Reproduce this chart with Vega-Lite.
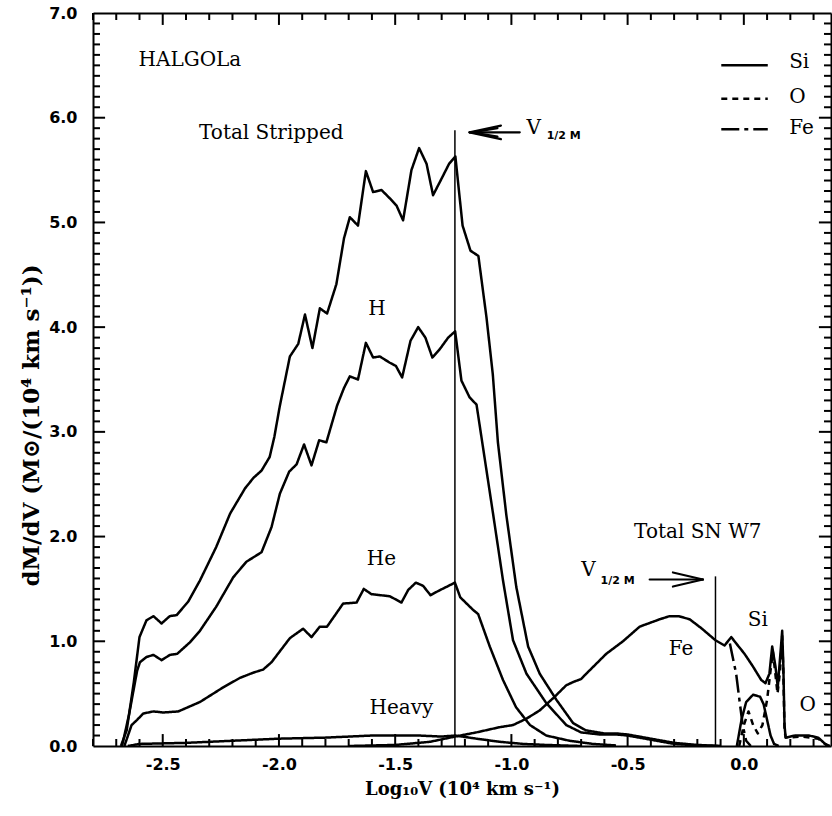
{
  "$schema": "https://vega.github.io/schema/vega-lite/v6.json",
  "autosize": "none",
  "width": 738,
  "height": 733,
  "padding": {"left": 93, "top": 13, "right": 1, "bottom": 70},
  "background": "white",
  "config": {
    "view": {"stroke": null},
    "axis": {"grid": false, "domainColor": "black", "labelColor": "black", "titleColor": "black", "domainWidth": 2}
  },
  "datasets": {
    "curves": [
      {"s":"TS","x":-2.68,"y":0},{"s":"TS","x":-2.655,"y":0.15},{"s":"TS","x":-2.625,"y":0.6},{"s":"TS","x":-2.6,"y":1.04},{"s":"TS","x":-2.57,"y":1.2},{"s":"TS","x":-2.54,"y":1.24},{"s":"TS","x":-2.505,"y":1.17},{"s":"TS","x":-2.47,"y":1.24},{"s":"TS","x":-2.44,"y":1.25},{"s":"TS","x":-2.39,"y":1.38},{"s":"TS","x":-2.34,"y":1.58},{"s":"TS","x":-2.27,"y":1.9},{"s":"TS","x":-2.21,"y":2.22},{"s":"TS","x":-2.146,"y":2.46},{"s":"TS","x":-2.11,"y":2.56},{"s":"TS","x":-2.075,"y":2.63},{"s":"TS","x":-2.04,"y":2.76},{"s":"TS","x":-2.02,"y":2.95},{"s":"TS","x":-1.996,"y":3.25},{"s":"TS","x":-1.953,"y":3.72},{"s":"TS","x":-1.917,"y":3.84},{"s":"TS","x":-1.888,"y":4.12},{"s":"TS","x":-1.856,"y":3.8},{"s":"TS","x":-1.824,"y":4.18},{"s":"TS","x":-1.793,"y":4.13},{"s":"TS","x":-1.753,"y":4.41},{"s":"TS","x":-1.72,"y":4.85},{"s":"TS","x":-1.695,"y":5.05},{"s":"TS","x":-1.66,"y":4.97},{"s":"TS","x":-1.626,"y":5.49},{"s":"TS","x":-1.595,"y":5.29},{"s":"TS","x":-1.559,"y":5.31},{"s":"TS","x":-1.523,"y":5.23},{"s":"TS","x":-1.494,"y":5.16},{"s":"TS","x":-1.466,"y":5.02},{"s":"TS","x":-1.43,"y":5.5},{"s":"TS","x":-1.397,"y":5.71},{"s":"TS","x":-1.365,"y":5.56},{"s":"TS","x":-1.337,"y":5.26},{"s":"TS","x":-1.3,"y":5.42},{"s":"TS","x":-1.268,"y":5.56},{"s":"TS","x":-1.241,"y":5.63},{"s":"TS","x":-1.21,"y":4.97},{"s":"TS","x":-1.176,"y":4.73},{"s":"TS","x":-1.142,"y":4.68},{"s":"TS","x":-1.107,"y":4.09},{"s":"TS","x":-1.08,"y":3.55},{"s":"TS","x":-1.058,"y":2.9},{"s":"TS","x":-1.022,"y":2.21},{"s":"TS","x":-0.979,"y":1.52},{"s":"TS","x":-0.928,"y":0.95},{"s":"TS","x":-0.878,"y":0.69},{"s":"TS","x":-0.806,"y":0.44},{"s":"TS","x":-0.735,"y":0.22},{"s":"TS","x":-0.68,"y":0.15},{"s":"TS","x":-0.6,"y":0.12},{"s":"TS","x":-0.55,"y":0.12},{"s":"TS","x":-0.5,"y":0.11},{"s":"TS","x":-0.45,"y":0.09},{"s":"TS","x":-0.4,"y":0.07},{"s":"TS","x":-0.3,"y":0.03},{"s":"TS","x":-0.2,"y":0.01},{"s":"TS","x":-0.1,"y":0},

      {"s":"H","x":-2.675,"y":0},{"s":"H","x":-2.645,"y":0.3},{"s":"H","x":-2.61,"y":0.72},{"s":"H","x":-2.598,"y":0.8},{"s":"H","x":-2.57,"y":0.85},{"s":"H","x":-2.54,"y":0.87},{"s":"H","x":-2.505,"y":0.82},{"s":"H","x":-2.469,"y":0.87},{"s":"H","x":-2.438,"y":0.88},{"s":"H","x":-2.383,"y":0.99},{"s":"H","x":-2.34,"y":1.1},{"s":"H","x":-2.27,"y":1.33},{"s":"H","x":-2.197,"y":1.61},{"s":"H","x":-2.14,"y":1.76},{"s":"H","x":-2.104,"y":1.81},{"s":"H","x":-2.075,"y":1.85},{"s":"H","x":-2.032,"y":2.09},{"s":"H","x":-1.996,"y":2.41},{"s":"H","x":-1.956,"y":2.62},{"s":"H","x":-1.924,"y":2.69},{"s":"H","x":-1.892,"y":2.88},{"s":"H","x":-1.86,"y":2.68},{"s":"H","x":-1.827,"y":2.92},{"s":"H","x":-1.796,"y":2.9},{"s":"H","x":-1.75,"y":3.25},{"s":"H","x":-1.72,"y":3.42},{"s":"H","x":-1.695,"y":3.53},{"s":"H","x":-1.66,"y":3.5},{"s":"H","x":-1.626,"y":3.85},{"s":"H","x":-1.595,"y":3.71},{"s":"H","x":-1.566,"y":3.72},{"s":"H","x":-1.523,"y":3.66},{"s":"H","x":-1.497,"y":3.63},{"s":"H","x":-1.47,"y":3.52},{"s":"H","x":-1.434,"y":3.87},{"s":"H","x":-1.401,"y":4.0},{"s":"H","x":-1.37,"y":3.9},{"s":"H","x":-1.34,"y":3.71},{"s":"H","x":-1.308,"y":3.79},{"s":"H","x":-1.272,"y":3.9},{"s":"H","x":-1.242,"y":3.96},{"s":"H","x":-1.215,"y":3.49},{"s":"H","x":-1.18,"y":3.33},{"s":"H","x":-1.15,"y":3.26},{"s":"H","x":-1.122,"y":2.85},{"s":"H","x":-1.079,"y":2.22},{"s":"H","x":-1.036,"y":1.58},{"s":"H","x":-0.993,"y":1.01},{"s":"H","x":-0.935,"y":0.69},{"s":"H","x":-0.85,"y":0.41},{"s":"H","x":-0.764,"y":0.2},{"s":"H","x":-0.7,"y":0.13},{"s":"H","x":-0.62,"y":0.11},{"s":"H","x":-0.55,"y":0.11},{"s":"H","x":-0.5,"y":0.1},{"s":"H","x":-0.45,"y":0.08},{"s":"H","x":-0.4,"y":0.06},{"s":"H","x":-0.3,"y":0.02},{"s":"H","x":-0.2,"y":0.005},{"s":"H","x":-0.1,"y":0},

      {"s":"He","x":-2.665,"y":0},{"s":"He","x":-2.634,"y":0.2},{"s":"He","x":-2.61,"y":0.25},{"s":"He","x":-2.584,"y":0.31},{"s":"He","x":-2.54,"y":0.33},{"s":"He","x":-2.497,"y":0.32},{"s":"He","x":-2.433,"y":0.33},{"s":"He","x":-2.34,"y":0.42},{"s":"He","x":-2.24,"y":0.56},{"s":"He","x":-2.168,"y":0.65},{"s":"He","x":-2.111,"y":0.7},{"s":"He","x":-2.068,"y":0.73},{"s":"He","x":-2.032,"y":0.8},{"s":"He","x":-1.953,"y":1.03},{"s":"He","x":-1.896,"y":1.12},{"s":"He","x":-1.86,"y":1.04},{"s":"He","x":-1.824,"y":1.14},{"s":"He","x":-1.793,"y":1.14},{"s":"He","x":-1.724,"y":1.36},{"s":"He","x":-1.666,"y":1.37},{"s":"He","x":-1.635,"y":1.5},{"s":"He","x":-1.602,"y":1.45},{"s":"He","x":-1.523,"y":1.43},{"s":"He","x":-1.473,"y":1.37},{"s":"He","x":-1.444,"y":1.49},{"s":"He","x":-1.411,"y":1.56},{"s":"He","x":-1.38,"y":1.53},{"s":"He","x":-1.348,"y":1.44},{"s":"He","x":-1.315,"y":1.48},{"s":"He","x":-1.243,"y":1.56},{"s":"He","x":-1.22,"y":1.42},{"s":"He","x":-1.165,"y":1.3},{"s":"He","x":-1.143,"y":1.26},{"s":"He","x":-1.093,"y":0.95},{"s":"He","x":-1.036,"y":0.63},{"s":"He","x":-0.98,"y":0.37},{"s":"He","x":-0.92,"y":0.2},{"s":"He","x":-0.85,"y":0.1},{"s":"He","x":-0.75,"y":0.05},{"s":"He","x":-0.65,"y":0.02},{"s":"He","x":-0.55,"y":0.005},

      {"s":"Heavy","x":-2.65,"y":0},{"s":"Heavy","x":-2.6,"y":0.02},{"s":"Heavy","x":-2.4,"y":0.03},{"s":"Heavy","x":-2.2,"y":0.05},{"s":"Heavy","x":-2.0,"y":0.07},{"s":"Heavy","x":-1.8,"y":0.08},{"s":"Heavy","x":-1.6,"y":0.1},{"s":"Heavy","x":-1.5,"y":0.1},{"s":"Heavy","x":-1.4,"y":0.1},{"s":"Heavy","x":-1.3,"y":0.09},{"s":"Heavy","x":-1.243,"y":0.1},{"s":"Heavy","x":-1.15,"y":0.07},{"s":"Heavy","x":-1.05,"y":0.04},{"s":"Heavy","x":-0.95,"y":0.02},{"s":"Heavy","x":-0.85,"y":0.01},{"s":"Heavy","x":-0.7,"y":0},

      {"s":"SNTot","x":-1.7,"y":0},{"s":"SNTot","x":-1.5,"y":0.01},{"s":"SNTot","x":-1.35,"y":0.04},{"s":"SNTot","x":-1.243,"y":0.09},{"s":"SNTot","x":-1.15,"y":0.13},{"s":"SNTot","x":-1.05,"y":0.18},{"s":"SNTot","x":-0.993,"y":0.2},{"s":"SNTot","x":-0.936,"y":0.26},{"s":"SNTot","x":-0.878,"y":0.34},{"s":"SNTot","x":-0.814,"y":0.47},{"s":"SNTot","x":-0.764,"y":0.58},{"s":"SNTot","x":-0.735,"y":0.61},{"s":"SNTot","x":-0.7,"y":0.64},{"s":"SNTot","x":-0.678,"y":0.69},{"s":"SNTot","x":-0.592,"y":0.88},{"s":"SNTot","x":-0.52,"y":1.0},{"s":"SNTot","x":-0.448,"y":1.14},{"s":"SNTot","x":-0.362,"y":1.21},{"s":"SNTot","x":-0.32,"y":1.24},{"s":"SNTot","x":-0.28,"y":1.24},{"s":"SNTot","x":-0.233,"y":1.21},{"s":"SNTot","x":-0.18,"y":1.12},{"s":"SNTot","x":-0.122,"y":1.01},{"s":"SNTot","x":-0.083,"y":0.96},{"s":"SNTot","x":-0.054,"y":1.04},{"s":"SNTot","x":-0.033,"y":0.98},{"s":"SNTot","x":0.003,"y":0.88},{"s":"SNTot","x":0.039,"y":0.76},{"s":"SNTot","x":0.075,"y":0.63},{"s":"SNTot","x":0.093,"y":0.6},{"s":"SNTot","x":0.11,"y":0.69},{"s":"SNTot","x":0.122,"y":0.95},{"s":"SNTot","x":0.136,"y":0.76},{"s":"SNTot","x":0.146,"y":0.56},{"s":"SNTot","x":0.153,"y":0.76},{"s":"SNTot","x":0.165,"y":1.1},{"s":"SNTot","x":0.17,"y":0.76},{"s":"SNTot","x":0.175,"y":0.2},{"s":"SNTot","x":0.18,"y":0.08},{"s":"SNTot","x":0.22,"y":0.1},{"s":"SNTot","x":0.28,"y":0.1},{"s":"SNTot","x":0.32,"y":0.08},{"s":"SNTot","x":0.35,"y":0.02},{"s":"SNTot","x":0.37,"y":0},

      {"s":"Fe","x":-0.06,"y":0.98},{"s":"Fe","x":-0.048,"y":0.85},{"s":"Fe","x":-0.033,"y":0.69},{"s":"Fe","x":-0.019,"y":0.44},{"s":"Fe","x":-0.005,"y":0.2},{"s":"Fe","x":0.01,"y":0.05},{"s":"Fe","x":0.03,"y":0},

      {"s":"Si","x":-0.03,"y":0},{"s":"Si","x":-0.01,"y":0.25},{"s":"Si","x":0.01,"y":0.42},{"s":"Si","x":0.04,"y":0.49},{"s":"Si","x":0.07,"y":0.47},{"s":"Si","x":0.085,"y":0.4},{"s":"Si","x":0.1,"y":0.25},{"s":"Si","x":0.115,"y":0.1},{"s":"Si","x":0.13,"y":0.02},{"s":"Si","x":0.15,"y":0},

      {"s":"O","x":-0.02,"y":0},{"s":"O","x":0.0,"y":0.2},{"s":"O","x":0.02,"y":0.33},{"s":"O","x":0.04,"y":0.2},{"s":"O","x":0.06,"y":0.12},{"s":"O","x":0.08,"y":0.2},{"s":"O","x":0.1,"y":0.44},{"s":"O","x":0.117,"y":0.76},{"s":"O","x":0.125,"y":0.9},{"s":"O","x":0.135,"y":0.7},{"s":"O","x":0.145,"y":0.5},{"s":"O","x":0.155,"y":0.7},{"s":"O","x":0.165,"y":1.05},{"s":"O","x":0.17,"y":0.7},{"s":"O","x":0.175,"y":0.15},{"s":"O","x":0.18,"y":0.08},{"s":"O","x":0.25,"y":0.09},{"s":"O","x":0.32,"y":0.07},{"s":"O","x":0.36,"y":0}
    ],
    "xminor": [{"v":-2.8},{"v":-2.7},{"v":-2.6},{"v":-2.4},{"v":-2.3},{"v":-2.2},{"v":-2.1},{"v":-1.9},{"v":-1.8},{"v":-1.7},{"v":-1.6},{"v":-1.4},{"v":-1.3},{"v":-1.2},{"v":-1.1},{"v":-0.9},{"v":-0.8},{"v":-0.7},{"v":-0.6},{"v":-0.4},{"v":-0.3},{"v":-0.2},{"v":-0.1},{"v":0.1},{"v":0.2},{"v":0.3}],
    "xmajor": [{"v":-2.5},{"v":-2.0},{"v":-1.5},{"v":-1.0},{"v":-0.5},{"v":0.0}],
    "yminor": [{"v":0.1},{"v":0.2},{"v":0.3},{"v":0.4},{"v":0.5},{"v":0.6},{"v":0.7},{"v":0.8},{"v":0.9},{"v":1.1},{"v":1.2},{"v":1.3},{"v":1.4},{"v":1.5},{"v":1.6},{"v":1.7},{"v":1.8},{"v":1.9},{"v":2.1},{"v":2.2},{"v":2.3},{"v":2.4},{"v":2.5},{"v":2.6},{"v":2.7},{"v":2.8},{"v":2.9},{"v":3.1},{"v":3.2},{"v":3.3},{"v":3.4},{"v":3.5},{"v":3.6},{"v":3.7},{"v":3.8},{"v":3.9},{"v":4.1},{"v":4.2},{"v":4.3},{"v":4.4},{"v":4.5},{"v":4.6},{"v":4.7},{"v":4.8},{"v":4.9},{"v":5.1},{"v":5.2},{"v":5.3},{"v":5.4},{"v":5.5},{"v":5.6},{"v":5.7},{"v":5.8},{"v":5.9},{"v":6.1},{"v":6.2},{"v":6.3},{"v":6.4},{"v":6.5},{"v":6.6},{"v":6.7},{"v":6.8},{"v":6.9}],
    "ymajor": [{"v":1},{"v":2},{"v":3},{"v":4},{"v":5},{"v":6}],
    "vlines": [
      {"x": -1.243, "y0": 0, "y1": 5.88},
      {"x": -0.122, "y0": 0, "y1": 1.62}
    ],
    "segs": [
      {"x": -1.18, "y": 5.86, "x2": -0.964, "y2": 5.86},
      {"x": -1.18, "y": 5.86, "x2": -1.045, "y2": 5.925},
      {"x": -1.18, "y": 5.86, "x2": -1.045, "y2": 5.795},
      {"x": -1.17, "y": 5.86, "x2": -1.06, "y2": 5.9},
      {"x": -1.17, "y": 5.86, "x2": -1.06, "y2": 5.82},
      {"x": -0.405, "y": 1.59, "x2": -0.176, "y2": 1.59},
      {"x": -0.176, "y": 1.59, "x2": -0.305, "y2": 1.657},
      {"x": -0.176, "y": 1.59, "x2": -0.305, "y2": 1.523}
    ],
    "legend": [
      {"s": "Si", "x": -0.097, "x2": 0.103, "y": 6.5},
      {"s": "O", "x": -0.097, "x2": 0.103, "y": 6.18},
      {"s": "Fe", "x": -0.097, "x2": 0.103, "y": 5.89}
    ],
    "labels": [
      {"label": "HALGOLa", "x": -2.383, "y": 6.55},
      {"label": "Total Stripped", "x": -2.033, "y": 5.85},
      {"label": "H", "x": -1.578, "y": 4.17},
      {"label": "He", "x": -1.559, "y": 1.79},
      {"label": "Heavy", "x": -1.473, "y": 0.36},
      {"label": "Total SN W7", "x": -0.198, "y": 2.04},
      {"label": "Fe", "x": -0.27, "y": 0.93},
      {"label": "Si", "x": 0.06, "y": 1.2},
      {"label": "O", "x": 0.275, "y": 0.39},
      {"label": "V", "x": -0.904, "y": 5.9},
      {"label": "V", "x": -0.668, "y": 1.676}
    ],
    "legendText": [
      {"label": "Si", "x": 0.195, "y": 6.53},
      {"label": "O", "x": 0.195, "y": 6.2},
      {"label": "Fe", "x": 0.195, "y": 5.9}
    ],
    "subs": [
      {"label": "1/2 M", "x": -0.775, "y": 5.83},
      {"label": "1/2 M", "x": -0.543, "y": 1.58}
    ]
  },
  "layer": [
    {
      "data": {"name": "curves"},
      "mark": {"type": "line", "color": "black", "strokeWidth": 2.5, "strokeJoin": "round", "clip": true},
      "encoding": {
        "x": {"field": "x", "type": "quantitative",
          "scale": {"domain": [-2.8, 0.375], "nice": false, "zero": false},
          "axis": {"orient": "bottom", "title": "Log₁₀V (10⁴ km s⁻¹)",
            "values": [-2.5,-2.0,-1.5,-1.0,-0.5,0.0],
            "labelExpr": "replace(format(datum.value, '.1f'), '−', '-')",
            "ticks": false,
            "labelFont": "DejaVu Sans", "labelFontWeight": "bold", "labelFontSize": 16, "labelPadding": 10, "labelFlush": false, "labelOverlap": false,
            "titleFont": "DejaVu Serif", "titleFontWeight": "bold", "titleFontSize": 18, "titlePadding": 8}},
        "y": {"field": "y", "type": "quantitative",
          "scale": {"domain": [0, 7], "nice": false, "zero": false},
          "axis": {"orient": "left", "title": "dM/dV (M⊙/(10⁴ km s⁻¹))",
            "values": [0,1,2,3,4,5,6,7],
            "labelExpr": "format(datum.value, '.1f')",
            "ticks": false,
            "labelFont": "DejaVu Sans", "labelFontWeight": "bold", "labelFontSize": 16, "labelPadding": 16, "labelFlush": false, "labelOverlap": false,
            "titleFont": "DejaVu Serif", "titleFontWeight": "bold", "titleFontSize": 23,
            "titleAngle": -90, "titleAlign": "center", "titleBaseline": "middle", "titleX": -62, "titleY": 412}},
        "detail": {"field": "s"},
        "strokeDash": {"field": "s", "type": "nominal",
          "scale": {"domain": ["TS","H","He","Heavy","SNTot","Si","O","Fe"], "range": [[1,0],[1,0],[1,0],[1,0],[1,0],[1,0],[6,5],[18,5,4,5]]},
          "legend": null}
      }
    },
    {
      "data": {"name": "vlines"},
      "mark": {"type": "rule", "color": "black", "strokeWidth": 1.5},
      "encoding": {
        "x": {"field": "x", "type": "quantitative",
          "scale": {"domain": [-2.8, 0.375], "nice": false, "zero": false},
          "axis": {"orient": "top", "title": null, "labels": false, "ticks": false, "values": [0]}},
        "y": {"field": "y0", "type": "quantitative",
          "scale": {"domain": [0, 7], "nice": false, "zero": false},
          "axis": {"orient": "right", "title": null, "labels": false, "ticks": false, "values": [0]}},
        "y2": {"field": "y1"}
      }
    },
    {
      "data": {"name": "xminor"},
      "layer": [
        {"mark": {"type": "rule", "color": "black", "strokeWidth": 2},
         "encoding": {"x": {"field": "v", "type": "quantitative", "scale": {"domain": [-2.8, 0.375], "nice": false, "zero": false}, "axis": null},
                      "y": {"datum": 0, "type": "quantitative", "scale": {"domain": [0, 7], "nice": false, "zero": false}, "axis": null},
                      "y2": {"datum": 0.067}}},
        {"mark": {"type": "rule", "color": "black", "strokeWidth": 2},
         "encoding": {"x": {"field": "v", "type": "quantitative", "scale": {"domain": [-2.8, 0.375], "nice": false, "zero": false}, "axis": null},
                      "y": {"datum": 7, "type": "quantitative", "scale": {"domain": [0, 7], "nice": false, "zero": false}, "axis": null},
                      "y2": {"datum": 6.933}}}
      ]
    },
    {
      "data": {"name": "xmajor"},
      "layer": [
        {"mark": {"type": "rule", "color": "black", "strokeWidth": 2},
         "encoding": {"x": {"field": "v", "type": "quantitative", "scale": {"domain": [-2.8, 0.375], "nice": false, "zero": false}, "axis": null},
                      "y": {"datum": 0, "type": "quantitative", "scale": {"domain": [0, 7], "nice": false, "zero": false}, "axis": null},
                      "y2": {"datum": 0.114}}},
        {"mark": {"type": "rule", "color": "black", "strokeWidth": 2},
         "encoding": {"x": {"field": "v", "type": "quantitative", "scale": {"domain": [-2.8, 0.375], "nice": false, "zero": false}, "axis": null},
                      "y": {"datum": 7, "type": "quantitative", "scale": {"domain": [0, 7], "nice": false, "zero": false}, "axis": null},
                      "y2": {"datum": 6.886}}}
      ]
    },
    {
      "data": {"name": "yminor"},
      "layer": [
        {"mark": {"type": "rule", "color": "black", "strokeWidth": 2},
         "encoding": {"y": {"field": "v", "type": "quantitative", "scale": {"domain": [0, 7], "nice": false, "zero": false}, "axis": null},
                      "x": {"datum": -2.8, "type": "quantitative", "scale": {"domain": [-2.8, 0.375], "nice": false, "zero": false}, "axis": null},
                      "x2": {"datum": -2.77}}},
        {"mark": {"type": "rule", "color": "black", "strokeWidth": 2},
         "encoding": {"y": {"field": "v", "type": "quantitative", "scale": {"domain": [0, 7], "nice": false, "zero": false}, "axis": null},
                      "x": {"datum": 0.375, "type": "quantitative", "scale": {"domain": [-2.8, 0.375], "nice": false, "zero": false}, "axis": null},
                      "x2": {"datum": 0.345}}}
      ]
    },
    {
      "data": {"name": "ymajor"},
      "layer": [
        {"mark": {"type": "rule", "color": "black", "strokeWidth": 2},
         "encoding": {"y": {"field": "v", "type": "quantitative", "scale": {"domain": [0, 7], "nice": false, "zero": false}, "axis": null},
                      "x": {"datum": -2.8, "type": "quantitative", "scale": {"domain": [-2.8, 0.375], "nice": false, "zero": false}, "axis": null},
                      "x2": {"datum": -2.748}}},
        {"mark": {"type": "rule", "color": "black", "strokeWidth": 2},
         "encoding": {"y": {"field": "v", "type": "quantitative", "scale": {"domain": [0, 7], "nice": false, "zero": false}, "axis": null},
                      "x": {"datum": 0.375, "type": "quantitative", "scale": {"domain": [-2.8, 0.375], "nice": false, "zero": false}, "axis": null},
                      "x2": {"datum": 0.323}}}
      ]
    },
    {
      "data": {"name": "segs"},
      "mark": {"type": "rule", "color": "black", "strokeWidth": 2.2, "strokeCap": "round"},
      "encoding": {
        "x": {"field": "x", "type": "quantitative", "scale": {"domain": [-2.8, 0.375], "nice": false, "zero": false}, "axis": null},
        "y": {"field": "y", "type": "quantitative", "scale": {"domain": [0, 7], "nice": false, "zero": false}, "axis": null},
        "x2": {"field": "x2"},
        "y2": {"field": "y2"}
      }
    },
    {
      "data": {"name": "legend"},
      "mark": {"type": "rule", "color": "black", "strokeWidth": 2.5},
      "encoding": {
        "x": {"field": "x", "type": "quantitative", "scale": {"domain": [-2.8, 0.375], "nice": false, "zero": false}, "axis": null},
        "x2": {"field": "x2"},
        "y": {"field": "y", "type": "quantitative", "scale": {"domain": [0, 7], "nice": false, "zero": false}, "axis": null},
        "strokeDash": {"field": "s", "type": "nominal",
          "scale": {"domain": ["TS","H","He","Heavy","SNTot","Si","O","Fe"], "range": [[1,0],[1,0],[1,0],[1,0],[1,0],[1,0],[6,5],[18,5,4,5]]},
          "legend": null}
      }
    },
    {
      "data": {"name": "labels"},
      "mark": {"type": "text", "font": "DejaVu Serif", "fontSize": 20, "color": "black", "align": "center", "baseline": "middle"},
      "encoding": {
        "x": {"field": "x", "type": "quantitative", "scale": {"domain": [-2.8, 0.375], "nice": false, "zero": false}, "axis": null},
        "y": {"field": "y", "type": "quantitative", "scale": {"domain": [0, 7], "nice": false, "zero": false}, "axis": null},
        "text": {"field": "label"}
      }
    },
    {
      "data": {"name": "legendText"},
      "mark": {"type": "text", "font": "DejaVu Serif", "fontSize": 20, "color": "black", "align": "left", "baseline": "middle"},
      "encoding": {
        "x": {"field": "x", "type": "quantitative", "scale": {"domain": [-2.8, 0.375], "nice": false, "zero": false}, "axis": null},
        "y": {"field": "y", "type": "quantitative", "scale": {"domain": [0, 7], "nice": false, "zero": false}, "axis": null},
        "text": {"field": "label"}
      }
    },
    {
      "data": {"name": "subs"},
      "mark": {"type": "text", "font": "DejaVu Sans", "fontWeight": "bold", "fontSize": 11, "color": "black", "align": "center", "baseline": "middle"},
      "encoding": {
        "x": {"field": "x", "type": "quantitative", "scale": {"domain": [-2.8, 0.375], "nice": false, "zero": false}, "axis": null},
        "y": {"field": "y", "type": "quantitative", "scale": {"domain": [0, 7], "nice": false, "zero": false}, "axis": null},
        "text": {"field": "label"}
      }
    }
  ],
  "resolve": {"axis": {"x": "independent", "y": "independent"}}
}
